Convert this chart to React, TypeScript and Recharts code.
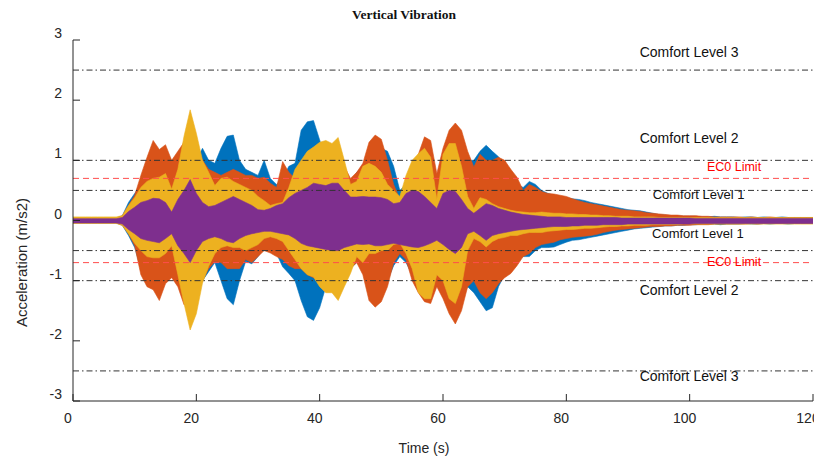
import React from 'react';
import { ComposedChart, Area, XAxis, YAxis, ReferenceLine, ReferenceDot } from 'recharts';

// Time (s), 1 s steps from 0 to 120
const times: number[] = Array.from({ length: 121 }, (_, i) => i);

// Envelope (max / min) of each acceleration record, m/s2, read per second
const blueHi = [0.04,0.04,0.04,0.04,0.04,0.04,0.04,0.04,
  0.08,0.3,0.45,0.6,0.7,0.8,0.8,0.8,0.7,0.8,0.9,1.0,1.0,1.2,1.0,0.95,1.2,1.4,1.42,1.0,0.85,0.8,0.75,1.0,0.7,0.6,0.7,0.9,0.95,1.5,1.64,1.66,1.34,1.0,0.9,1.0,0.8,0.6,0.8,0.9,1.0,1.1,1.2,1.15,0.9,0.5,0.6,0.8,1.0,1.1,1.0,0.6,0.9,1.1,1.2,1.0,1.0,1.0,1.15,1.25,1.15,1.06,0.9,0.8,0.6,0.55,0.65,0.6,0.5,0.45,0.42,0.4,0.38,0.36,0.35,0.33,0.3,0.28,0.26,0.24,0.22,0.2,0.18,0.17,0.16,0.14,0.12,0.1,0.09,0.08,0.08,0.07,0.07,
  0.07,0.06,0.06,0.07,0.06,0.06,0.06,0.05,0.06,0.06,0.05,0.06,0.05,0.05,0.06,0.05,0.05,0.05,0.05,0.05];
const blueLo = [-0.04,-0.04,-0.04,-0.04,-0.04,-0.04,-0.04,-0.04,
  -0.08,-0.25,-0.45,-0.8,-0.9,-0.95,-1.0,-1.0,-0.9,-0.9,-1.1,-1.3,-1.2,-1.0,-0.85,-0.7,-1.0,-1.3,-1.4,-1.0,-0.68,-0.72,-0.6,-0.45,-0.5,-0.55,-0.77,-0.88,-1.0,-1.33,-1.6,-1.66,-1.45,-1.1,-1.0,-1.0,-0.9,-0.8,-0.7,-0.8,-1.0,-1.1,-1.1,-1.0,-0.75,-0.6,-0.7,-0.9,-1.1,-1.3,-1.2,-0.95,-1.2,-1.4,-1.5,-1.3,-1.1,-1.2,-1.35,-1.5,-1.45,-1.1,-0.9,-0.85,-0.65,-0.6,-0.6,-0.5,-0.45,-0.45,-0.44,-0.4,-0.36,-0.33,-0.32,-0.3,-0.28,-0.26,-0.24,-0.22,-0.2,-0.18,-0.16,-0.14,-0.13,-0.12,-0.11,-0.1,-0.09,-0.09,-0.08,-0.08,-0.07,
  -0.07,-0.06,-0.06,-0.06,-0.07,-0.06,-0.06,-0.06,-0.05,-0.06,-0.06,-0.05,-0.06,-0.05,-0.05,-0.06,-0.05,-0.05,-0.05,-0.05];
const orangeHi = [0.04,0.04,0.04,0.04,0.04,0.04,0.04,0.04,
  0.08,0.25,0.42,0.75,1.05,1.33,1.18,1.26,1.0,1.15,1.3,1.3,1.2,1.0,0.85,0.8,0.75,0.8,0.85,0.8,0.75,0.75,0.7,0.72,0.62,0.55,0.98,0.8,0.7,0.8,0.9,0.9,0.95,1.0,1.0,1.1,0.9,0.7,0.8,0.95,1.3,1.42,1.35,1.0,0.6,0.35,0.55,0.9,1.1,1.39,1.33,0.78,1.2,1.5,1.62,1.5,1.15,0.89,1.1,1.0,1.0,1.05,1.0,0.85,0.72,0.5,0.6,0.55,0.48,0.45,0.44,0.42,0.4,0.36,0.33,0.3,0.28,0.26,0.24,0.22,0.2,0.18,0.17,0.16,0.15,0.13,0.12,0.11,0.1,0.09,0.09,0.08,0.08,
  0.08,0.07,0.07,0.06,0.06,0.06,0.06,0.06,0.05,0.06,0.05,0.05,0.06,0.05,0.05,0.05,0.05,0.05,0.05,0.05];
const orangeLo = [-0.04,-0.04,-0.04,-0.04,-0.04,-0.04,-0.04,-0.04,
  -0.08,-0.22,-0.42,-0.9,-1.1,-1.15,-1.33,-1.05,-0.95,-1.1,-1.4,-1.4,-1.3,-1.0,-0.8,-0.68,-0.7,-0.8,-0.8,-0.8,-0.65,-0.7,-0.6,-0.5,-0.54,-0.6,-0.65,-0.75,-0.8,-0.8,-0.9,-0.95,-1.0,-1.1,-1.1,-1.2,-1.0,-0.8,-0.7,-0.9,-1.33,-1.44,-1.35,-1.1,-0.7,-0.55,-0.65,-1.0,-1.2,-1.35,-1.38,-1.1,-1.3,-1.55,-1.72,-1.5,-1.1,-1.0,-1.2,-1.3,-1.2,-1.05,-0.95,-0.88,-0.75,-0.6,-0.55,-0.45,-0.4,-0.38,-0.36,-0.32,-0.3,-0.28,-0.27,-0.26,-0.25,-0.23,-0.2,-0.18,-0.16,-0.15,-0.14,-0.13,-0.12,-0.11,-0.1,-0.1,-0.09,-0.09,-0.08,-0.08,-0.08,
  -0.07,-0.07,-0.07,-0.06,-0.06,-0.06,-0.06,-0.06,-0.06,-0.05,-0.06,-0.05,-0.05,-0.05,-0.05,-0.05,-0.05,-0.05,-0.05,-0.05];
const yellowHi = [0.06,0.06,0.06,0.06,0.06,0.06,0.06,0.06,
  0.08,0.25,0.38,0.55,0.65,0.7,0.72,0.78,0.52,0.85,1.4,1.84,1.45,1.0,0.8,0.58,0.7,0.72,0.65,0.6,0.55,0.5,0.4,0.33,0.25,0.28,0.3,0.55,0.85,1.0,1.15,1.22,1.3,1.33,1.28,1.38,1.0,0.6,0.65,0.9,0.95,0.9,0.8,0.6,0.5,0.4,0.75,1.0,1.11,1.2,1.05,0.35,1.1,1.28,1.28,0.9,0.4,0.2,0.38,0.35,0.28,0.23,0.2,0.17,0.15,0.14,0.13,0.13,0.14,0.13,0.12,0.12,0.11,0.11,0.1,0.1,0.09,0.09,0.08,0.08,0.07,0.07,0.07,0.06,0.06,0.06,0.06,0.05,0.05,0.05,0.05,0.05,0.05,
  0.05,0.05,0.05,0.05,0.05,0.05,0.05,0.05,0.05,0.05,0.05,0.05,0.05,0.05,0.05,0.05,0.05,0.05,0.05,0.05];
const yellowLo = [-0.05,-0.05,-0.05,-0.05,-0.05,-0.05,-0.05,-0.05,
  -0.08,-0.22,-0.38,-0.5,-0.6,-0.62,-0.62,-0.55,-0.42,-0.9,-1.38,-1.82,-1.55,-1.04,-0.76,-0.55,-0.45,-0.42,-0.45,-0.45,-0.5,-0.45,-0.4,-0.3,-0.27,-0.3,-0.35,-0.5,-0.65,-0.8,-0.9,-0.94,-1.1,-1.2,-1.2,-1.33,-1.1,-0.88,-0.6,-0.7,-0.55,-0.55,-0.5,-0.5,-0.4,-0.38,-0.55,-0.8,-1.2,-1.3,-1.3,-0.9,-1.0,-1.3,-1.38,-1.1,-0.5,-0.3,-0.35,-0.44,-0.35,-0.3,-0.28,-0.25,-0.25,-0.22,-0.2,-0.2,-0.2,-0.18,-0.17,-0.16,-0.15,-0.15,-0.14,-0.13,-0.13,-0.12,-0.11,-0.1,-0.1,-0.09,-0.09,-0.08,-0.08,-0.08,-0.07,-0.07,-0.07,-0.07,-0.07,-0.06,-0.06,
  -0.06,-0.06,-0.06,-0.06,-0.06,-0.06,-0.06,-0.06,-0.06,-0.06,-0.06,-0.06,-0.06,-0.06,-0.06,-0.06,-0.06,-0.06,-0.06,-0.06];
const purpleHi = [0.03,0.03,0.03,0.03,0.03,0.03,0.03,0.03,
  0.05,0.15,0.22,0.3,0.33,0.37,0.36,0.3,0.14,0.35,0.5,0.68,0.45,0.3,0.23,0.25,0.3,0.35,0.4,0.35,0.3,0.25,0.18,0.17,0.2,0.25,0.28,0.38,0.45,0.5,0.55,0.62,0.6,0.58,0.62,0.62,0.5,0.39,0.39,0.4,0.39,0.39,0.38,0.35,0.28,0.3,0.45,0.5,0.48,0.4,0.3,0.2,0.45,0.5,0.48,0.35,0.2,0.12,0.2,0.28,0.25,0.2,0.17,0.14,0.12,0.1,0.09,0.08,0.07,0.06,0.06,0.06,0.05,0.05,0.05,0.05,0.05,0.05,0.05,0.05,0.05,0.04,0.04,0.04,0.04,0.04,0.04,0.04,0.04,0.04,0.04,0.04,0.04,
  0.035,0.035,0.035,0.035,0.035,0.035,0.035,0.035,0.035,0.035,0.035,0.035,0.035,0.035,0.035,0.035,0.035,0.035,0.035,0.035];
const purpleLo = [-0.04,-0.04,-0.04,-0.04,-0.04,-0.04,-0.04,-0.04,
  -0.06,-0.15,-0.22,-0.3,-0.33,-0.35,-0.37,-0.3,-0.22,-0.42,-0.55,-0.7,-0.5,-0.35,-0.3,-0.27,-0.3,-0.35,-0.37,-0.3,-0.25,-0.22,-0.2,-0.18,-0.18,-0.2,-0.22,-0.24,-0.3,-0.38,-0.42,-0.44,-0.46,-0.48,-0.5,-0.5,-0.45,-0.42,-0.39,-0.4,-0.39,-0.42,-0.42,-0.4,-0.38,-0.4,-0.42,-0.44,-0.45,-0.42,-0.38,-0.33,-0.4,-0.48,-0.55,-0.45,-0.22,-0.18,-0.25,-0.33,-0.25,-0.22,-0.2,-0.18,-0.16,-0.15,-0.14,-0.13,-0.12,-0.11,-0.1,-0.1,-0.1,-0.09,-0.09,-0.08,-0.08,-0.08,-0.07,-0.07,-0.07,-0.07,-0.06,-0.06,-0.06,-0.06,-0.06,-0.06,-0.06,-0.06,-0.06,-0.06,-0.06,
  -0.05,-0.05,-0.05,-0.05,-0.05,-0.05,-0.05,-0.05,-0.05,-0.05,-0.05,-0.05,-0.05,-0.05,-0.05,-0.05,-0.05,-0.05,-0.05,-0.05];

const xTicks = [0, 20, 40, 60, 80, 100, 120];
const yTicks = [-3, -2, -1, 0, 1, 2, 3];

// Horizontal limit lines
const comfortLevels = [2.5, 1, 0.5, -0.5, -1, -2.5];
const ec0Limits = [0.7, -0.7];

// Text annotations (data coordinates)
const labelTexts = ['Comfort Level 3', 'Comfort Level 2', 'EC0 Limit', 'Comfort Level 1', 'Comfort Level 1', 'EC0 Limit', 'Comfort Level 2', 'Comfort Level 3'];
const labelX = [91.9, 91.9, 102.8, 94.0, 93.9, 102.8, 91.9, 91.9];
const labelY = [2.8, 1.37, 0.89, 0.44, -0.21, -0.69, -1.16, -2.59];

const series = [
  { key: 'blue', color: '#0072BD' },
  { key: 'orange', color: '#D95319' },
  { key: 'yellow', color: '#EDB120' },
  { key: 'purple', color: '#7E2F8E' },
];

const data = times.map((t, i) => ({
  t,
  blue: [blueLo[i], blueHi[i]],
  orange: [orangeLo[i], orangeHi[i]],
  yellow: [yellowLo[i], yellowHi[i]],
  purple: [purpleLo[i], purpleHi[i]],
}));

const FONT = '"Liberation Sans", Arial, Helvetica, sans-serif';
const AXIS_COLOR = '#262626';

const BottomTick = (props: any) => {
  const { x, y, payload } = props;
  return (
    <g>
      <line x1={x} x2={x} y1={y} y2={y - 7} stroke={AXIS_COLOR} strokeWidth={1} />
      <text x={x - 5} y={y + 17} textAnchor="middle" dominantBaseline="central" fontFamily={FONT} fontSize={14} fill="#262626">
        {payload.value}
      </text>
    </g>
  );
};
const TopTick = (props: any) => {
  const { x, y } = props;
  return <line x1={x} x2={x} y1={y} y2={y + 7} stroke={AXIS_COLOR} strokeWidth={1} />;
};
const LeftTick = (props: any) => {
  const { x, y, payload } = props;
  return (
    <g>
      <line x1={x} x2={x + 7} y1={y} y2={y} stroke={AXIS_COLOR} strokeWidth={1} />
      <text x={x - 11} y={y - 7} textAnchor="end" dominantBaseline="central" fontFamily={FONT} fontSize={14} fill="#262626">
        {payload.value}
      </text>
    </g>
  );
};
const RightTick = (props: any) => {
  const { x, y } = props;
  return <line x1={x - 7} x2={x} y1={y} y2={y} stroke={AXIS_COLOR} strokeWidth={1} />;
};

const XLabel = (props: any) => {
  const vb = props.viewBox;
  return (
    <text x={vb.x + vb.width / 2 - 19} y={vb.y + 47} textAnchor="middle" dominantBaseline="central" fontFamily={FONT} fontSize={14} fill="#262626">
      Time (s)
    </text>
  );
};
const YLabel = (props: any) => {
  const vb = props.viewBox;
  const cx = vb.x + 21;
  const cy = vb.y + vb.height / 2 + 42;
  return (
    <text x={cx} y={cy} transform={`rotate(-90 ${cx} ${cy})`} textAnchor="middle" dominantBaseline="central" fontFamily={FONT} fontSize={15} fill="#262626">
      Acceleration (m/s2)
    </text>
  );
};

const makeNote = (text: string) => (props: any) => {
  const vb = props.viewBox;
  const cx = vb.x + vb.width / 2;
  const cy = vb.y + vb.height / 2;
  const isEc0 = text.startsWith('EC0');
  const isL1 = text.endsWith('1');
  return (
    <text x={cx} y={cy} textAnchor="start" dominantBaseline="central" fontFamily={FONT}
      fontSize={isEc0 ? 12.5 : isL1 ? 13 : 14} fill={isEc0 ? '#ff0000' : '#111'}>
      {text}
    </text>
  );
};

export default function App() {
  return (
    <div style={{ position: 'absolute', left: 0, top: 0, width: 814, height: 459, background: '#fff' }}>
      <div style={{ position: 'absolute', left: 0, top: 7, width: 808, textAlign: 'center', fontFamily: '"Liberation Serif", "Times New Roman", serif', fontWeight: 'bold', fontSize: 13.5, lineHeight: '16px', color: '#111' }}>
        Vertical Vibration
      </div>
      <ComposedChart width={814} height={459} data={data} margin={{ top: 40, right: 1, left: 0, bottom: 0 }}>
        <XAxis dataKey="t" type="number" domain={[0, 120]} ticks={xTicks} allowDataOverflow
          height={58} tickSize={0} tickMargin={0} tickLine={false}
          axisLine={{ stroke: AXIS_COLOR, strokeWidth: 1 }} tick={<BottomTick />} interval={0}
          label={{ content: <XLabel /> }} />
        <XAxis xAxisId="top" orientation="top" dataKey="t" type="number" domain={[0, 120]} ticks={xTicks} allowDataOverflow
          height={0} tickSize={0} tickMargin={0} tickLine={false}
          axisLine={{ stroke: AXIS_COLOR, strokeWidth: 1 }} tick={<TopTick />} interval={0} />
        <YAxis type="number" domain={[-3, 3]} ticks={yTicks} allowDataOverflow width={73}
          tickSize={0} tickMargin={0} tickLine={false}
          axisLine={{ stroke: AXIS_COLOR, strokeWidth: 1 }} tick={<LeftTick />} interval={0}
          label={{ content: <YLabel /> }} />
        <YAxis yAxisId="r" orientation="right" type="number" domain={[-3, 3]} ticks={yTicks} allowDataOverflow width={0}
          tickSize={0} tickMargin={0} tickLine={false}
          axisLine={{ stroke: AXIS_COLOR, strokeWidth: 1 }} tick={<RightTick />} interval={0} />
        {series.map((s) => (
          <Area key={s.key} type="linear" dataKey={s.key} fill={s.color} fillOpacity={1}
            stroke={s.color} strokeWidth={0.6} isAnimationActive={false} dot={false} activeDot={false} />
        ))}
        {comfortLevels.map((v) => (
          <ReferenceLine key={'c' + v} y={v} stroke="#333" strokeWidth={1} strokeDasharray="6 3 1.5 3" />
        ))}
        {ec0Limits.map((v) => (
          <ReferenceLine key={'e' + v} y={v} stroke="#ff4d4d" strokeWidth={1} strokeDasharray="6 4" />
        ))}
        {labelTexts.map((txt, i) => (
          <ReferenceDot key={'n' + i} x={labelX[i]} y={labelY[i]} r={1} fill="none" stroke="none"
            label={{ content: makeNote(txt) }} />
        ))}
      </ComposedChart>
    </div>
  );
}
